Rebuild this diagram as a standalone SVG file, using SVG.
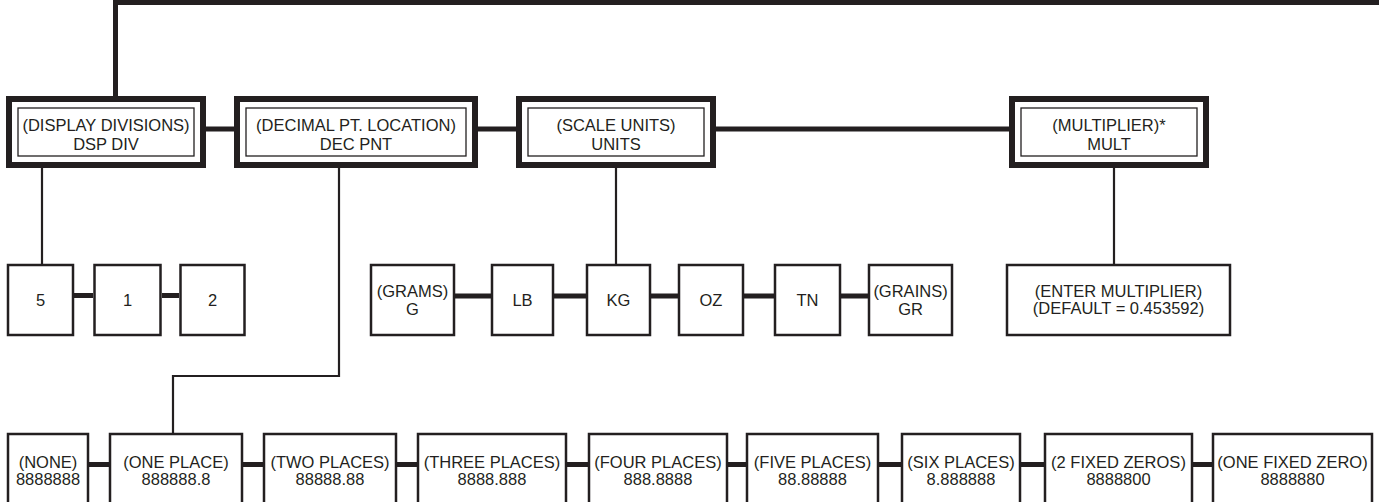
<svg xmlns="http://www.w3.org/2000/svg" width="1379" height="502" viewBox="0 0 1379 502">
<style>
.t{font-family:"Liberation Sans",Arial,sans-serif;font-size:16.5px;fill:#231f20;text-anchor:middle}
.ob{fill:#fff;stroke:#231f20;stroke-width:6}
.ib{fill:none;stroke:#231f20;stroke-width:1.3}
.b{fill:#fff;stroke:#231f20;stroke-width:2.5}
.thin{fill:none;stroke:#231f20;stroke-width:2.2}
.thick{fill:none;stroke:#231f20;stroke-width:5}
.top{fill:none;stroke:#231f20;stroke-width:5}
</style>
<g id="connectors">
<path class="top" d="M115.5 168V2.5H1379"/>
<path class="thick" d="M206 129H234M478 129H516M716 129H1009"/>
<path class="thin" d="M42 168V264M339 168V376H173V433M616 168V264M1114 168V264"/>
<path class="thick" d="M74 295.5H93M162 295.5H179"/>
<path class="thick" d="M455 296H491M554 296H586M651 296H678M744 296H774M841 296H868"/>
<path class="thick" d="M89 464.5H109M243 464.5H263M397 464.5H417M567 464.5H588M728 464.5H746M879 464.5H901M1021 464.5H1044M1193 464.5H1212"/>
</g>
<g id="dspdiv"><rect class="ob" x="9" y="99" width="194" height="66"/><rect class="ib" x="18" y="108" width="176" height="48"/><text class="t" x="106" y="130.5">(DISPLAY DIVISIONS)</text><text class="t" x="106" y="150">DSP DIV</text></g>
<g id="decpnt"><rect class="ob" x="237" y="99" width="238" height="66"/><rect class="ib" x="246" y="108" width="220" height="48"/><text class="t" x="356" y="130.5">(DECIMAL PT. LOCATION)</text><text class="t" x="356" y="150">DEC PNT</text></g>
<g id="units"><rect class="ob" x="519" y="99" width="194" height="66"/><rect class="ib" x="528" y="108" width="176" height="48"/><text class="t" x="616" y="130.5">(SCALE UNITS)</text><text class="t" x="616" y="150">UNITS</text></g>
<g id="mult"><rect class="ob" x="1012" y="99" width="194" height="66"/><rect class="ib" x="1021" y="108" width="176" height="48"/><text class="t" x="1109" y="130.5">(MULTIPLIER)*</text><text class="t" x="1109" y="150">MULT</text></g>
<g id="div5"><rect class="b" x="8" y="265" width="65" height="70"/><text class="t" x="40.5" y="306">5</text></g>
<g id="div1"><rect class="b" x="94.5" y="265" width="66" height="70"/><text class="t" x="127.5" y="306">1</text></g>
<g id="div2"><rect class="b" x="180.5" y="265" width="64" height="70"/><text class="t" x="212.5" y="306">2</text></g>
<g id="u-g"><rect class="b" x="371" y="265" width="83" height="70"/><text class="t" x="412.5" y="297">(GRAMS)</text><text class="t" x="412.5" y="315">G</text></g>
<g id="u-lb"><rect class="b" x="492" y="265" width="61" height="70"/><text class="t" x="522.5" y="306">LB</text></g>
<g id="u-kg"><rect class="b" x="587" y="265" width="63" height="70"/><text class="t" x="618.5" y="306">KG</text></g>
<g id="u-oz"><rect class="b" x="679" y="265" width="64" height="70"/><text class="t" x="711" y="306">OZ</text></g>
<g id="u-tn"><rect class="b" x="775" y="265" width="65" height="70"/><text class="t" x="807.5" y="306">TN</text></g>
<g id="u-gr"><rect class="b" x="869" y="265" width="83" height="70"/><text class="t" x="910.5" y="297">(GRAINS)</text><text class="t" x="910.5" y="315">GR</text></g>
<g id="entermult"><rect class="b" x="1007" y="265" width="223" height="70"/><text class="t" x="1118.5" y="297">(ENTER MULTIPLIER)</text><text class="t" x="1118.5" y="314">(DEFAULT = 0.453592)</text></g>
<g id="p0"><rect class="b" x="8" y="434" width="80" height="72"/><text class="t" x="48" y="468">(NONE)</text><text class="t" x="48" y="485">8888888</text></g>
<g id="p1"><rect class="b" x="110" y="434" width="132" height="72"/><text class="t" x="176" y="468">(ONE PLACE)</text><text class="t" x="176" y="485">888888.8</text></g>
<g id="p2"><rect class="b" x="264" y="434" width="132" height="72"/><text class="t" x="330" y="468">(TWO PLACES)</text><text class="t" x="330" y="485">88888.88</text></g>
<g id="p3"><rect class="b" x="418" y="434" width="148" height="72"/><text class="t" x="492" y="468">(THREE PLACES)</text><text class="t" x="492" y="485">8888.888</text></g>
<g id="p4"><rect class="b" x="589" y="434" width="138" height="72"/><text class="t" x="658" y="468">(FOUR PLACES)</text><text class="t" x="658" y="485">888.8888</text></g>
<g id="p5"><rect class="b" x="747" y="434" width="131" height="72"/><text class="t" x="812.5" y="468">(FIVE PLACES)</text><text class="t" x="812.5" y="485">88.88888</text></g>
<g id="p6"><rect class="b" x="902" y="434" width="118" height="72"/><text class="t" x="961" y="468">(SIX PLACES)</text><text class="t" x="961" y="485">8.888888</text></g>
<g id="p7"><rect class="b" x="1045" y="434" width="147" height="72"/><text class="t" x="1118.5" y="468">(2 FIXED ZEROS)</text><text class="t" x="1118.5" y="485">8888800</text></g>
<g id="p8"><rect class="b" x="1213" y="434" width="159" height="72"/><text class="t" x="1292.5" y="468">(ONE FIXED ZERO)</text><text class="t" x="1292.5" y="485">8888880</text></g>
</svg>
